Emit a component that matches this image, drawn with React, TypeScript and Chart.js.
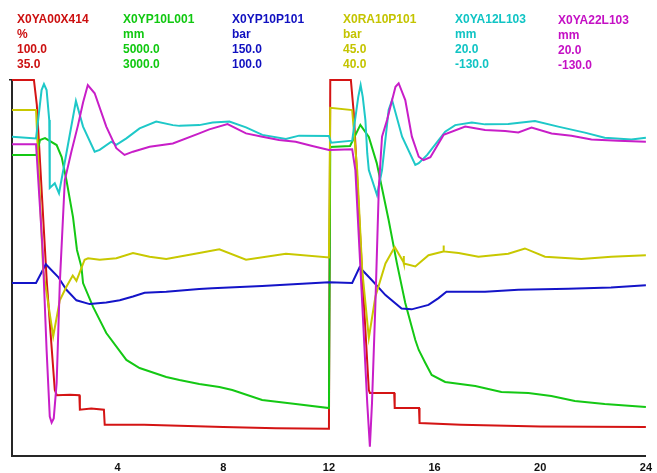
import React, { useEffect, useRef } from "react";
import { Chart, registerables } from "chart.js";

Chart.register(...registerables);

// Header rows: name, unit, max, min
const seriesNames = ["X0YA00X414", "X0YP10L001", "X0YP10P101", "X0RA10P101", "X0YA12L103", "X0YA22L103"];
const seriesUnits = ["%", "mm", "bar", "bar", "mm", "mm"];
const seriesMax = [100, 5000, 150, 45, 20, 20];
const seriesMin = [35, 3000, 100, 40, -130, -130];
const seriesColors = ["#d41414", "#14c814", "#1414c8", "#c8c800", "#1ec8c8", "#c81ec8"];
const textColors = ["#cc1010", "#10c810", "#1010c0", "#c4c400", "#10c4c4", "#c410c4"];

const xTicks = [4, 8, 12, 16, 20, 24];

// [time, value]
const redData: [number, number][] = [
  [0, 100], [0.83, 100], [0.94, 95.7], [1.32, 64.9], [1.62, 46.4], [1.7, 45.5], [2.2, 45.6], [2.55, 45.5],
  [2.57, 43.0], [3.0, 43.2], [3.48, 43.0], [3.51, 40.4], [5, 40.4], [8, 40.0], [10, 39.8], [12.0, 39.7],
  [12.05, 100], [12.83, 100], [12.94, 94.3], [13.25, 67.2], [13.51, 46.4], [13.55, 45.9], [14.47, 45.9],
  [14.49, 43.3], [15.41, 43.3], [15.43, 40.7], [17, 40.4], [20, 40.1], [24, 40.0],
];

const greenData: [number, number][] = [
  [0, 4601], [0.93, 4601], [1.06, 4681], [1.25, 4691], [1.69, 4654], [1.88, 4590], [2.06, 4468], [2.31, 4271],
  [2.46, 4096], [2.63, 4005], [2.69, 3920], [3.07, 3793], [3.57, 3654], [4.33, 3511], [4.83, 3468],
  [5.84, 3420], [6.34, 3404], [7.09, 3383], [7.85, 3367], [8.34, 3351], [9.47, 3298], [10.74, 3277],
  [12.0, 3255], [12.05, 4644], [12.8, 4649], [13.19, 4761], [13.51, 4697], [13.81, 4558], [14.0, 4431],
  [14.26, 4255], [14.57, 4027], [14.89, 3814], [15.27, 3617], [15.4, 3564], [15.65, 3495], [15.89, 3431],
  [16.4, 3394], [17.54, 3372], [18.53, 3340], [19.55, 3335], [20.42, 3319], [21.31, 3293], [22.44, 3277],
  [24, 3261],
];

const blueData: [number, number][] = [
  [0, 123.0], [0.91, 123.0], [1.28, 125.5], [1.75, 123.8], [2.06, 122.1], [2.44, 120.7], [2.94, 120.2],
  [3.57, 120.4], [4.08, 120.7], [4.58, 121.2], [5.02, 121.7], [5.84, 121.85], [7.09, 122.2], [7.58, 122.3],
  [9.47, 122.6], [12.0, 123.1], [12.88, 123.0], [13.16, 125.1], [13.62, 123.4], [14.14, 121.4],
  [14.75, 119.6], [15.13, 119.5], [15.77, 120.1], [16.15, 121.0], [16.45, 121.85], [17.91, 121.85],
  [19.17, 122.1], [21.06, 122.25], [22.68, 122.4], [24, 122.7],
];

const yellowData: [number, number][] = [
  [0, 44.6], [0.91, 44.6], [1.18, 42.47], [1.56, 41.59], [1.81, 42.07], [2.06, 42.25], [2.3, 42.4],
  [2.44, 42.33], [2.75, 42.61], [2.88, 42.63], [3.32, 42.61], [3.95, 42.63], [4.58, 42.7], [5.21, 42.65],
  [5.84, 42.62], [7.09, 42.7], [7.85, 42.75], [8.86, 42.61], [10.37, 42.69], [12.0, 42.64], [12.05, 44.63],
  [12.88, 44.6], [13.07, 43.8], [13.26, 42.47], [13.51, 41.57], [13.76, 42.12], [14.14, 42.56],
  [14.49, 42.78], [14.82, 42.58], [14.83, 42.66], [14.84, 42.56], [15.27, 42.52], [15.77, 42.67],
  [16.33, 42.72], [16.34, 42.8], [16.35, 42.72], [16.91, 42.7], [17.66, 42.65], [18.79, 42.69],
  [19.42, 42.76], [20.18, 42.65], [21.56, 42.62], [22.69, 42.65], [24, 42.67],
];

const cyanData: [number, number][] = [
  [0, -2.6], [0.91, -3.3], [1.12, 16.0], [1.21, 18.4], [1.31, 16.0], [1.41, 4.0], [1.43, -23.1],
  [1.62, -21.2], [1.78, -25.2], [2.06, -9.2], [2.42, 11.6], [2.69, 1.4], [3.13, -8.6], [3.32, -7.9],
  [3.76, -4.6], [3.95, -5.9], [4.33, -3.3], [4.83, 0.7], [5.46, 3.4], [6.09, 2.0], [6.34, 1.7], [7.09, 2.0],
  [7.6, 3.0], [8.23, 3.4], [8.86, 1.1], [9.48, -1.9], [10.37, -3.5], [10.87, -2.2], [12.0, -2.3],
  [12.08, -5.0], [12.88, -4.2], [13.11, 13.3], [13.2, 18.0], [13.28, 13.3], [13.38, 4.0], [13.45, -9.2],
  [13.51, -15.9], [13.82, -25.9], [14.01, -15.9], [14.26, 8.0], [14.39, 12.0], [14.77, -2.6],
  [15.27, -13.9], [15.4, -13.2], [15.72, -9.9], [16.4, -0.6], [16.78, 2.0], [17.41, 3.0], [17.91, 2.3],
  [18.79, 2.4], [19.8, 3.6], [20.68, 1.4], [21.69, -1.0], [22.44, -3.0], [23.45, -3.7], [24, -3.0],
];

const magentaData: [number, number][] = [
  [0, -5.6], [0.91, -5.6], [1.16, -47.8], [1.31, -87.7], [1.43, -114.3], [1.5, -116.7], [1.58, -115.0],
  [1.69, -101.0], [1.81, -61.1], [2.0, -19.9], [2.25, -8.5], [2.5, 2.0], [2.69, 11.0], [2.87, 18.0],
  [3.13, 14.7], [3.57, 1.4], [3.95, -7.2], [4.26, -9.9], [4.58, -8.6], [5.21, -6.6], [6.09, -5.3],
  [7.09, -1.3], [7.47, 0.3], [8.16, 2.4], [8.86, -1.3], [9.48, -2.6], [10.11, -3.9], [10.74, -4.6],
  [11.37, -6.3], [12.0, -7.9], [12.88, -7.6], [13.0, -15.9], [13.26, -69.0], [13.45, -108.9],
  [13.55, -126.3], [13.63, -108.9], [13.76, -69.0], [13.89, -22.6], [14.01, -2.6], [14.2, 4.0],
  [14.52, 17.3], [14.64, 18.7], [14.89, 12.0], [15.14, -2.6], [15.4, -10.6], [15.58, -12.0],
  [15.84, -10.8], [16.34, -1.9], [17.16, 1.4], [17.91, 0.1], [18.67, -0.3], [19.17, -0.9], [19.67, 1.0],
  [20.43, -1.3], [21.18, -2.2], [21.94, -3.7], [22.94, -4.2], [24, -4.6],
];

const allData = [redData, greenData, blueData, yellowData, cyanData, magentaData];
const axisIds = ["yR", "yG", "yB", "yY", "yC", "yM"];

const colLeft = [17, 123, 232, 343, 455, 558];
const colTop = [11.5, 11.5, 11.5, 11.5, 11.5, 12.8];

export default function App() {
  const canvasRef = useRef<HTMLCanvasElement | null>(null);

  useEffect(() => {
    const canvas = canvasRef.current;
    if (!canvas) return;
    const scales: any = {
      x: {
        type: "linear",
        min: 0,
        max: 24,
        position: "bottom",
        grid: { display: false, drawTicks: false },
        border: { display: true, color: "#262626", width: 2 },
        ticks: {
          stepSize: 4,
          autoSkip: false,
          maxRotation: 0,
          padding: 5,
          color: "#111",
          font: { family: "'Liberation Sans', Arial, sans-serif", size: 11, weight: "bold" },
          callback: (v: any) => (xTicks.includes(Number(v)) ? String(v) : ""),
        },
        afterFit: (s: any) => {
          s.height = 17;
        },
      },
    };
    axisIds.forEach((id, i) => {
      const visible = i === 0;
      scales[id] = {
        type: "linear",
        min: seriesMin[i],
        max: seriesMax[i],
        display: visible,
        position: "left",
        grid: { display: visible, drawOnChartArea: false, drawTicks: true, tickLength: 3, color: "#262626", lineWidth: 1.5 },
        border: { display: visible, color: "#262626", width: 2 },
        ticks: { display: false },
        afterBuildTicks: (s: any) => {
          s.ticks = [{ value: seriesMax[i] }];
        },
        afterFit: (s: any) => {
          s.width = visible ? 3 : 0;
        },
      };
    });

    const chart = new Chart(canvas, {
      type: "line",
      data: {
        datasets: allData.map((d, i) => ({
          label: seriesNames[i],
          data: d.map(([t, v]) => ({ x: t, y: v })),
          yAxisID: axisIds[i],
          borderColor: seriesColors[i],
          backgroundColor: seriesColors[i],
          borderWidth: 2,
          pointRadius: 0,
          tension: 0,
          fill: false,
          clip: false as any,
          order: 6 - i,
        })),
      },
      options: {
        responsive: false,
        animation: false,
        devicePixelRatio: 1,
        layout: { padding: { left: 9, right: 9, top: 80, bottom: 0 } },
        plugins: { legend: { display: false }, tooltip: { enabled: false }, title: { display: false } },
        scales,
      },
    });
    return () => chart.destroy();
  }, []);

  return (
    <div style={{ position: "fixed", left: 0, top: 0, width: 657, height: 473, background: "#fff" }}>
      <canvas ref={canvasRef} width={657} height={473} style={{ position: "absolute", left: 0, top: 0 }} />
      {seriesNames.map((name, i) => (
        <div
          key={name}
          style={{
            position: "absolute",
            left: colLeft[i],
            top: colTop[i],
            color: textColors[i],
            fontFamily: "'Liberation Sans', Arial, sans-serif",
            fontSize: 12,
            fontWeight: "bold",
            lineHeight: "15px",
            whiteSpace: "nowrap",
          }}
        >
          <div>{name}</div>
          <div>{seriesUnits[i]}</div>
          <div>{seriesMax[i].toFixed(1)}</div>
          <div>{seriesMin[i].toFixed(1)}</div>
        </div>
      ))}
    </div>
  );
}
